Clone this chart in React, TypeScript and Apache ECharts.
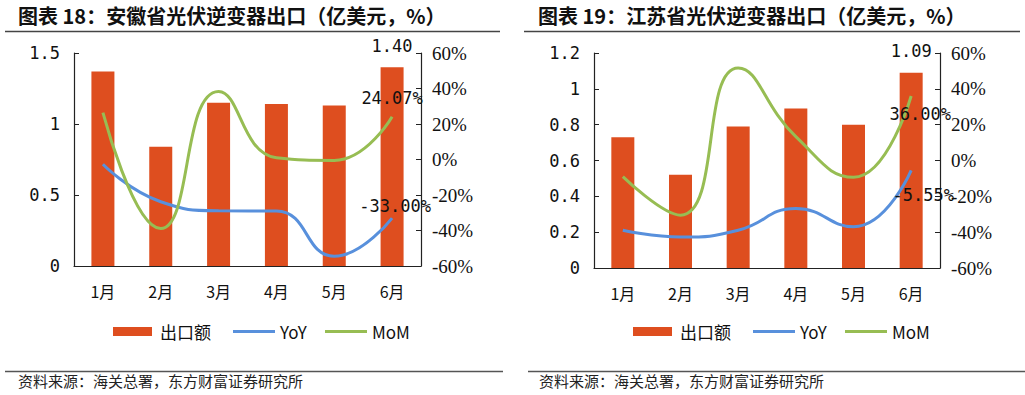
import React, { useEffect, useRef } from "react";
import * as echarts from "echarts";

const months = ["1月", "2月", "3月", "4月", "5月", "6月"];

// 安徽省
const ahExport = [1.37, 0.84, 1.15, 1.14, 1.13, 1.4];
const ahYoY = [-2.7, -23.8, -28.9, -29.0, -54.5, -33.0];
const ahMoM = [26.4, -38.9, 38.3, 1.0, -0.5, 24.07];

// 江苏省
const jsExport = [0.73, 0.52, 0.79, 0.89, 0.8, 1.09];
const jsYoY = [-38.9, -42.7, -38.9, -26.8, -37.0, -5.55];
const jsMoM = [-9.0, -30.5, 51.6, 13.3, -9.4, 36.0];

const titles = [
  "图表 18：安徽省光伏逆变器出口（亿美元，%）",
  "图表 19：江苏省光伏逆变器出口（亿美元，%）",
];
const sourceText = "资料来源：海关总署，东方财富证券研究所";
const legendNames = ["出口额", "YoY", "MoM"];

const BAR = "#DE4E1F";
const BLUE = "#5890DC";
const GREEN = "#97BD53";
const CJK = "Noto Sans CJK SC";
const MONO = "DejaVu Sans Mono";
const NARROW = "Liberation Sans Narrow";
const AXIS = "#222";

export default function App() {
  const ref = useRef<HTMLDivElement>(null);

  useEffect(() => {
    if (!ref.current) return;
    const chart = echarts.init(ref.current, null, { renderer: "svg" });

    const lastLabel = (arr: number[], label: any) =>
      arr.map((v, i) => (i === arr.length - 1 ? { value: v, label: { show: true, ...label } } : v));

    const numLabelText = {
      fontFamily: MONO,
      fontSize: 17,
      color: "#111",
    };

    const xAxis = (gi: number) => ({
      gridIndex: gi,
      type: "category",
      data: months,
      boundaryGap: true,
      axisLine: { lineStyle: { color: AXIS, width: 1.2 } },
      axisTick: { inside: true, length: 5, lineStyle: { color: AXIS } },
      axisLabel: { fontFamily: CJK, fontSize: 16, color: "#111", margin: 17 },
      splitLine: { show: false },
    });

    const leftAxis = (gi: number, max: number, interval: number) => ({
      gridIndex: gi,
      type: "value",
      min: 0,
      max,
      interval,
      position: "left",
      axisLine: { show: true, lineStyle: { color: AXIS, width: 1.2 } },
      axisTick: { show: true, inside: true, length: 5, lineStyle: { color: AXIS } },
      axisLabel: { fontFamily: MONO, fontSize: 17, color: "#111", margin: 14 },
      splitLine: { show: false },
    });

    const rightAxis = (gi: number) => ({
      gridIndex: gi,
      type: "value",
      min: -60,
      max: 60,
      interval: 20,
      position: "right",
      axisLine: { show: true, lineStyle: { color: AXIS, width: 1.2 } },
      axisTick: { show: true, inside: true, length: 5, lineStyle: { color: AXIS } },
      axisLabel: { fontFamily: NARROW, fontSize: 19, color: "#111", margin: 11, formatter: "{value}%" },
      splitLine: { show: false },
    });

    const lineSeries = (name: string, color: string, xi: number, yi: number, data: any) => ({
      name,
      type: "line",
      xAxisIndex: xi,
      yAxisIndex: yi,
      data,
      smooth: 0.5,
      symbol: "circle",
      symbolSize: 0,
      showSymbol: true,
      lineStyle: { color, width: 3 },
      itemStyle: { color },
      z: 3,
    });

    const pct = (p: any) => Number(p.value).toFixed(2) + "%";
    const num = (p: any) => Number(p.value).toFixed(2);

    const legendItem = (name: string, left: number, w: number, h: number) => ({
      data: [{ name, icon: "rect" }],
      left,
      top: 323,
      padding: 0,
      itemWidth: w,
      itemHeight: h,
      selectedMode: false,
      textStyle: { fontFamily: CJK, fontSize: 17, color: "#111", padding: [0, 0, 0, name === "出口额" ? 3 : 0] },
    });

    const graphic: any[] = [];
    [0, 1].forEach((k) => {
      graphic.push({
        type: "text",
        left: k === 0 ? 18 : 538,
        top: 5,
        style: { text: titles[k], fontFamily: CJK, fontSize: 20, fontWeight: "bold", fill: "#111" },
      });
      graphic.push({
        type: "line",
        shape: { x1: k === 0 ? 5 : 524, y1: 31.5, x2: k === 0 ? 500 : 1020, y2: 31.5 },
        style: { stroke: "#444", lineWidth: 1.3 },
      });
      graphic.push({
        type: "line",
        shape: { x1: k === 0 ? 5 : 528, y1: 371.5, x2: k === 0 ? 503 : 1025, y2: 371.5 },
        style: { stroke: "#555", lineWidth: 1.5 },
      });
      graphic.push({
        type: "text",
        left: k === 0 ? 18 : 539,
        top: 373,
        style: { text: sourceText, fontFamily: CJK, fontSize: 15, fill: "#222" },
      });
    });

    chart.setOption({
      animation: false,
      backgroundColor: "#fff",
      grid: [
        { left: 74, right: 1025 - 421, top: 53, bottom: 395 - 266 },
        { left: 594, right: 1025 - 940, top: 53, bottom: 395 - 268 },
      ],
      xAxis: [xAxis(0), xAxis(1)],
      yAxis: [leftAxis(0, 1.5, 0.5), rightAxis(0), leftAxis(1, 1.2, 0.2), rightAxis(1)],
      legend: [
        legendItem(legendNames[0], 113, 39, 9),
        legendItem(legendNames[1], 233, 42, 3),
        legendItem(legendNames[2], 325, 42, 3),
        legendItem(legendNames[0], 633, 39, 9),
        legendItem(legendNames[1], 753, 42, 3),
        legendItem(legendNames[2], 845, 42, 3),
      ],
      series: [
        {
          name: legendNames[0],
          type: "bar",
          xAxisIndex: 0,
          yAxisIndex: 0,
          barWidth: 23,
          itemStyle: { color: BAR },
          data: lastLabel(ahExport, { position: "top", distance: 13, formatter: num, ...numLabelText }),
          z: 2,
        },
        lineSeries(legendNames[1], BLUE, 0, 1,
          lastLabel(ahYoY, { position: "top", distance: 4, offset: [3, 0], formatter: pct, ...numLabelText })),
        lineSeries(legendNames[2], GREEN, 0, 1,
          lastLabel(ahMoM, { position: "top", distance: 10, formatter: pct, ...numLabelText })),
        {
          name: legendNames[0],
          type: "bar",
          xAxisIndex: 1,
          yAxisIndex: 2,
          barWidth: 23,
          itemStyle: { color: BAR },
          data: lastLabel(jsExport, { position: "top", distance: 13, formatter: num, ...numLabelText }),
          z: 2,
        },
        lineSeries(legendNames[1], BLUE, 1, 3,
          lastLabel(jsYoY, { position: "bottom", distance: 16, offset: [12, 0], formatter: pct, ...numLabelText })),
        lineSeries(legendNames[2], GREEN, 1, 3,
          lastLabel(jsMoM, { position: "bottom", distance: 9, offset: [9, 0], formatter: pct, ...numLabelText })),
      ],
      graphic,
    });

    return () => chart.dispose();
  }, []);

  return (
    <div
      ref={ref}
      style={{ position: "fixed", left: 0, top: 0, width: 1025, height: 395, background: "#fff" }}
    />
  );
}
